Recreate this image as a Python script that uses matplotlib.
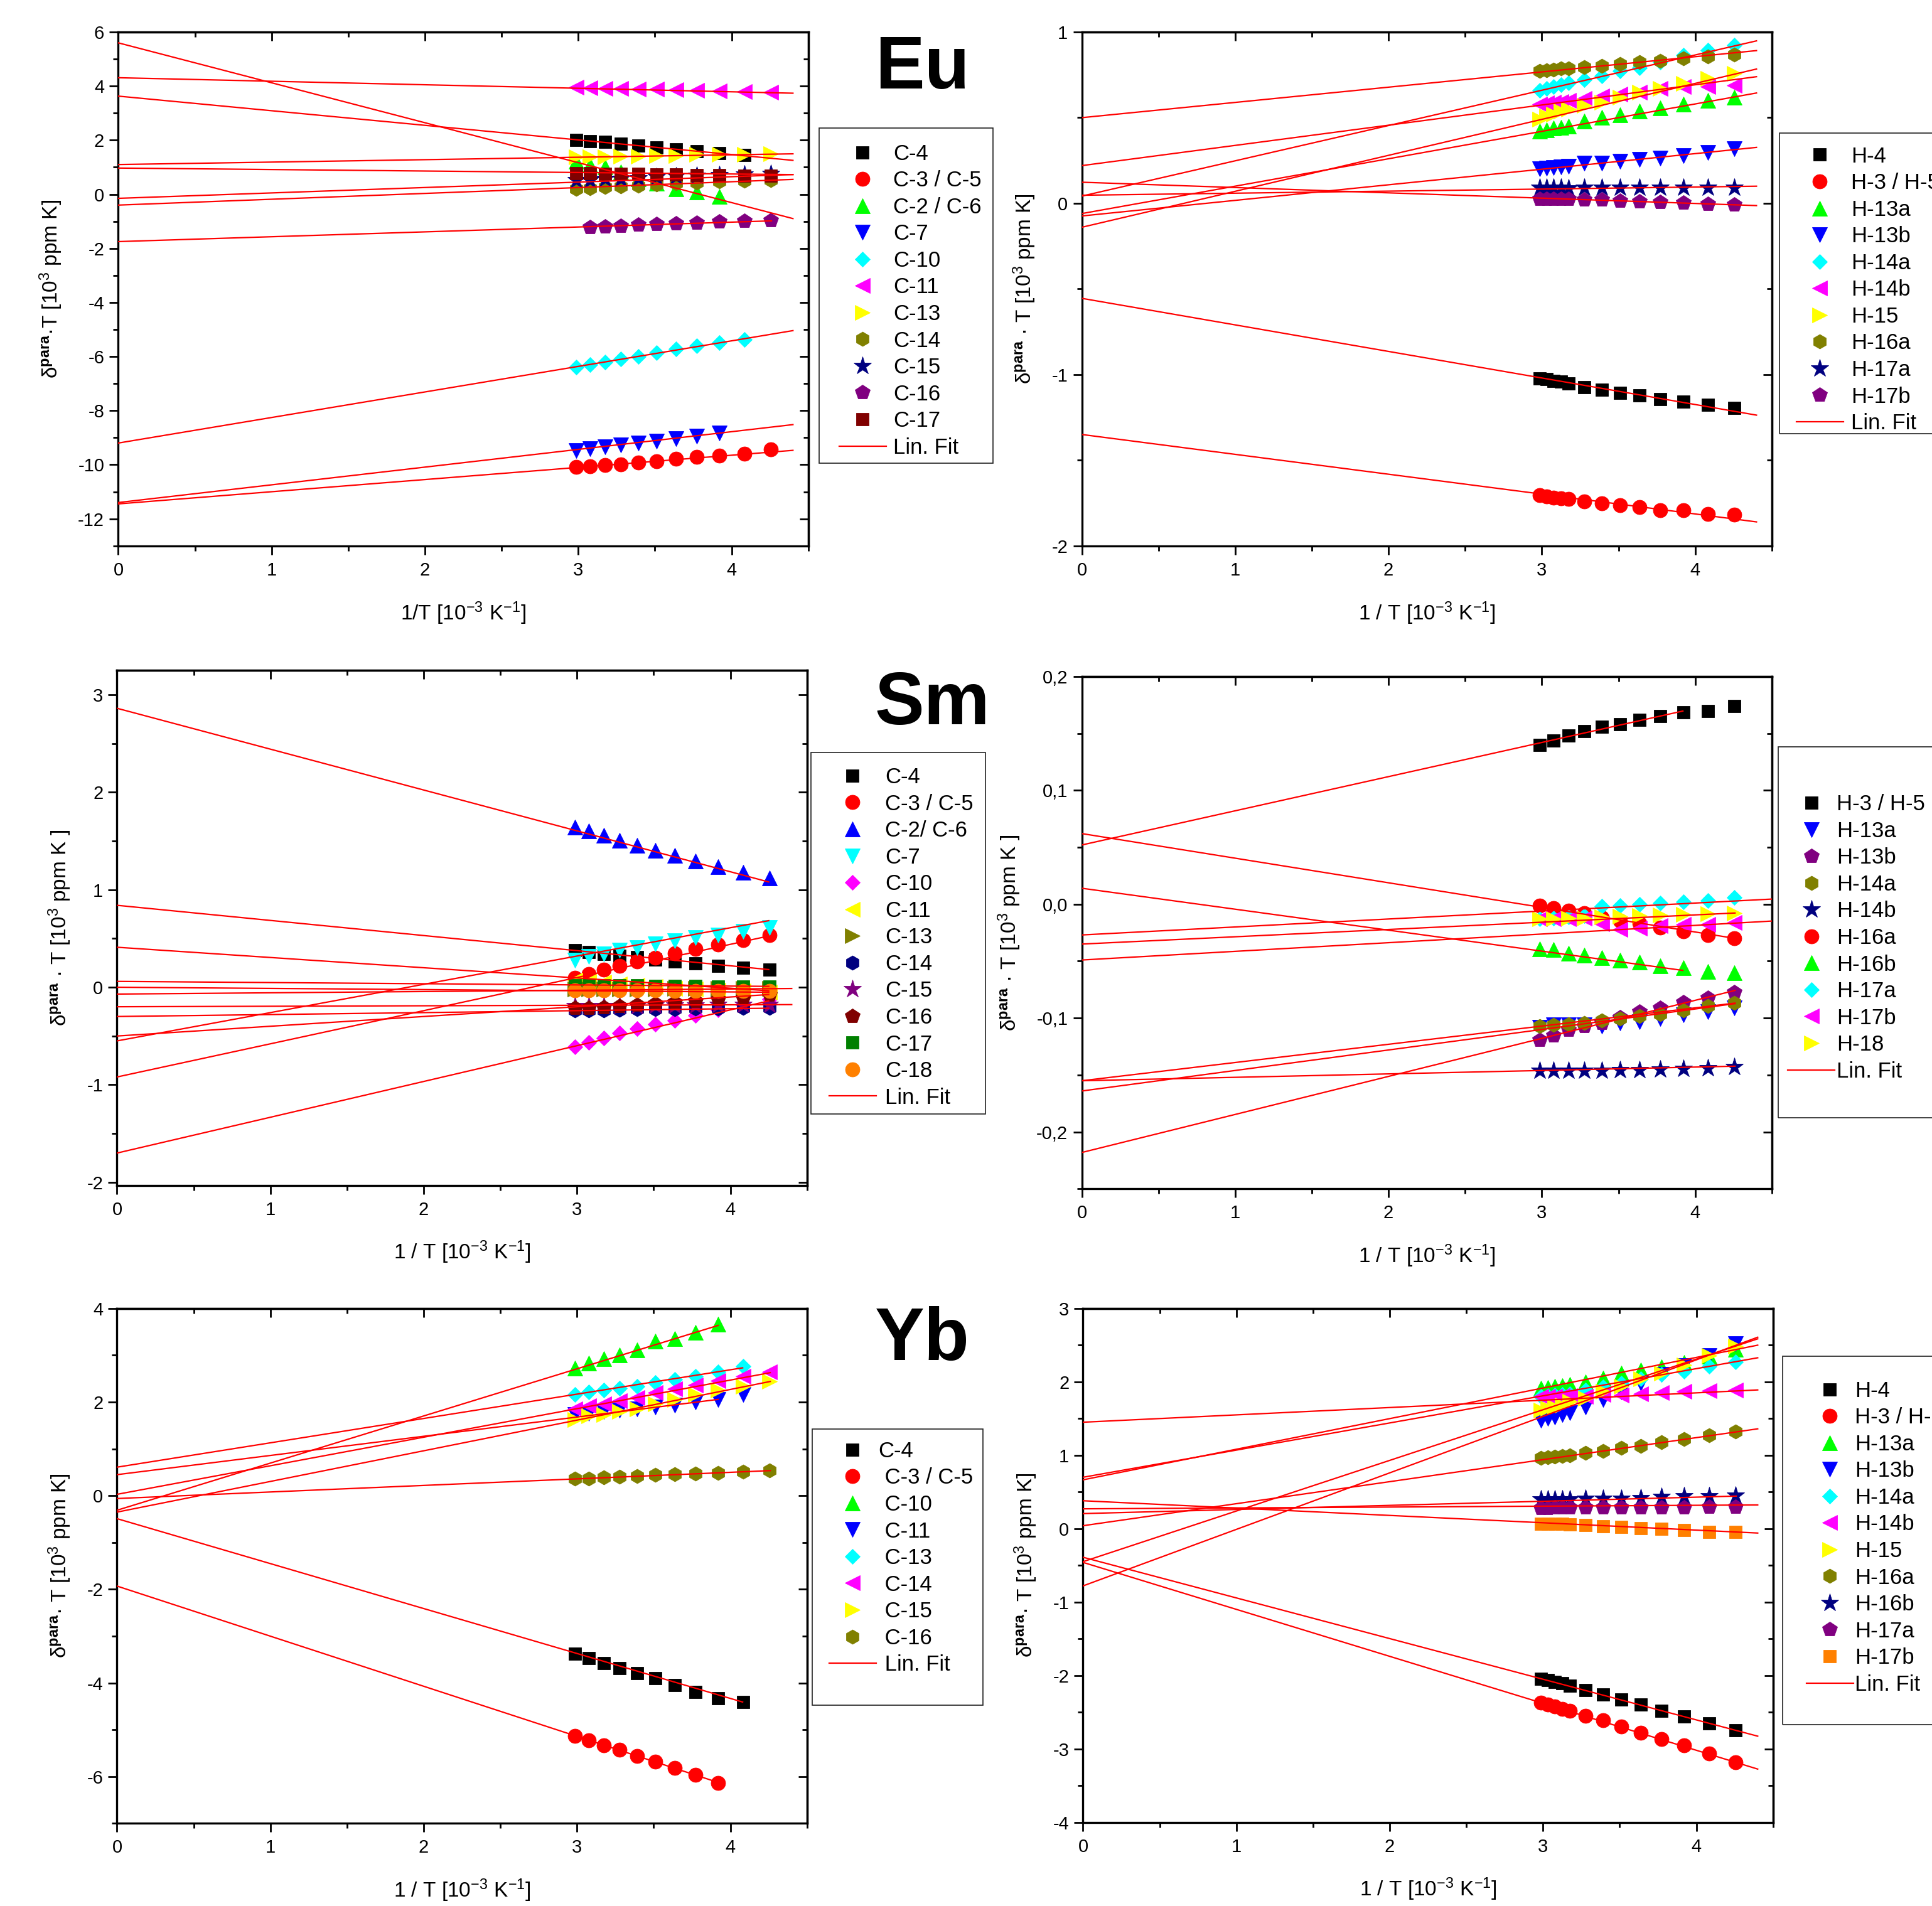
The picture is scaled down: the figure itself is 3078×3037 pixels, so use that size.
import numpy as np
import matplotlib
matplotlib.use('Agg')
import matplotlib.pyplot as plt
from matplotlib.patches import Rectangle
from matplotlib.ticker import MultipleLocator, FuncFormatter, NullFormatter

plt.rcParams['font.family'] = ['Liberation Sans', 'DejaVu Sans']
plt.rcParams['mathtext.fontset'] = 'custom'
plt.rcParams['mathtext.rm'] = 'Liberation Sans'
plt.rcParams['mathtext.it'] = 'Liberation Sans:italic'
plt.rcParams['mathtext.bf'] = 'Liberation Sans:bold'
plt.rcParams['axes.unicode_minus'] = False

nan = np.nan

# measurement temperatures [K]
T_C = [335, 325, 315, 305, 295, 285, 275, 265, 255, 245, 235]
T_H = [335, 330, 325, 320, 315, 305, 295, 285, 275, 265, 255, 245, 235]

# ---------------- Eu, 13C ----------------
eu_c_labels = ['C-4', 'C-3 / C-5', 'C-2 / C-6', 'C-7', 'C-10', 'C-11', 'C-13', 'C-14', 'C-15', 'C-16', 'C-17']
eu_c_values = [
    [2.02, 1.97, 1.93, 1.86, 1.80, 1.72, 1.67, 1.60, 1.52, 1.46, nan],
    [-10.09, -10.06, -10.01, -9.98, -9.92, -9.87, -9.79, -9.72, -9.67, -9.59, -9.44],
    [1.21, 1.08, 1.02, 0.83, 0.58, 0.41, 0.21, 0.08, -0.09, nan, nan],
    [-9.48, -9.42, -9.34, -9.28, -9.20, -9.12, -9.03, -8.94, -8.83, nan, nan],
    [-6.39, -6.31, -6.20, -6.09, -5.99, -5.87, -5.73, -5.61, -5.49, -5.37, nan],
    [3.95, 3.93, 3.92, 3.91, 3.89, 3.88, 3.86, 3.84, 3.83, 3.80, 3.78],
    [1.39, 1.39, 1.39, 1.41, 1.41, 1.43, 1.44, 1.47, 1.48, 1.47, 1.49],
    [0.21, 0.23, 0.27, 0.30, 0.32, 0.36, 0.41, 0.43, 0.47, 0.49, 0.52],
    [0.52, 0.53, 0.56, 0.58, 0.60, 0.63, 0.66, 0.69, 0.72, 0.74, 0.76],
    [nan, -1.22, -1.19, -1.17, -1.12, -1.10, -1.07, -1.06, -1.01, -0.98, -0.96],
    [0.77, 0.77, 0.76, 0.76, 0.75, 0.74, 0.73, 0.71, 0.70, 0.69, 0.68],
]
eu_c_intercept = [3.63, -11.45, 5.6, -11.4, -9.2, 4.31, 1.1, -0.4, -0.15, -1.75, 0.97]
eu_c_slope = [-0.54, 0.45, -1.477, 0.655, 0.945, -0.13, 0.09, 0.216, 0.2, 0.18, -0.055]
eu_c_end = [4.4, 4.4, 4.4, 4.4, 4.4, 4.4, 4.4, 4.4, 4.4, 4.26, 4.4]

# ---------------- Eu, 1H ----------------
eu_h_labels = ['H-4', 'H-3 / H-5', 'H-13a', 'H-13b', 'H-14a', 'H-14b', 'H-15', 'H-16a', 'H-17a', 'H-17b']
eu_h_values = [
    [-1.022, -1.028, -1.036, -1.042, -1.052, -1.073, -1.089, -1.107, -1.123, -1.143, -1.159, -1.177, -1.194],
    [-1.704, -1.710, -1.718, -1.724, -1.728, -1.742, -1.752, -1.764, -1.774, -1.792, -1.794, -1.815, -1.819],
    [0.42, 0.43, 0.44, 0.444, 0.45, 0.48, 0.50, 0.516, 0.54, 0.556, 0.58, 0.60, 0.62],
    [0.20, 0.205, 0.21, 0.212, 0.215, 0.235, 0.235, 0.245, 0.255, 0.265, 0.28, 0.295, 0.32],
    [0.661, 0.671, 0.681, 0.691, 0.702, 0.722, 0.742, 0.772, 0.792, 0.823, 0.863, 0.893, 0.923],
    [0.58, 0.585, 0.59, 0.595, 0.60, 0.61, 0.625, 0.637, 0.65, 0.67, 0.68, 0.68, 0.69],
    [0.49, 0.51, 0.52, 0.54, 0.55, 0.57, 0.59, 0.62, 0.65, 0.67, 0.70, 0.73, 0.76],
    [0.772, 0.778, 0.782, 0.786, 0.788, 0.796, 0.802, 0.812, 0.823, 0.833, 0.847, 0.859, 0.867],
    [0.09, 0.09, 0.09, 0.09, 0.088, 0.09, 0.09, 0.092, 0.092, 0.092, 0.092, 0.092, 0.092],
    [0.026, 0.026, 0.026, 0.026, 0.026, 0.022, 0.02, 0.016, 0.012, 0.006, 0.002, -0.004, -0.008],
]
eu_h_intercept = [-0.555, -1.35, -0.06, -0.074, 0.042, 0.22, -0.14, 0.50, 0.047, 0.123]
eu_h_slope = [-0.155, -0.116, 0.16, 0.091, 0.206, 0.118, 0.21, 0.089, 0.012, -0.031]
eu_h_end = [4.4] * 10

# ---------------- Sm, 13C ----------------
sm_c_labels = ['C-4', 'C-3 / C-5', 'C-2/ C-6', 'C-7', 'C-10', 'C-11', 'C-13', 'C-14', 'C-15', 'C-16', 'C-17', 'C-18']
sm_c_values = [
    [0.379, 0.359, 0.342, 0.322, 0.307, 0.284, 0.264, 0.244, 0.221, 0.198, 0.178],
    [0.10, 0.135, 0.178, 0.221, 0.264, 0.302, 0.351, 0.394, 0.437, 0.486, 0.532],
    [1.644, 1.60, 1.557, 1.509, 1.457, 1.405, 1.351, 1.293, 1.236, 1.178, 1.118],
    [0.279, 0.313, 0.342, 0.379, 0.408, 0.443, 0.474, 0.509, 0.537, 0.572, 0.609],
    [-0.612, -0.563, -0.52, -0.468, -0.425, -0.382, -0.339, -0.29, -0.233, -0.181, -0.124],
    [0.07, 0.06, 0.05, 0.03, 0.02, 0.01, -0.01, -0.02, -0.03, -0.04, -0.05],
    [-0.02, -0.02, -0.02, -0.02, -0.02, -0.02, -0.015, -0.015, -0.01, -0.01, -0.01],
    [-0.24, -0.24, -0.235, -0.232, -0.227, -0.227, -0.222, -0.22, -0.22, -0.215, -0.215],
    [-0.19, -0.19, -0.19, -0.19, -0.19, -0.185, -0.185, -0.185, -0.18, -0.18, -0.18],
    [-0.21, -0.21, -0.204, -0.195, -0.181, -0.167, -0.152, -0.138, -0.124, -0.109, -0.08],
    [0.02, 0.02, 0.02, 0.02, 0.02, 0.015, 0.015, 0.015, 0.01, 0.01, 0.01],
    [-0.03, -0.032, -0.033, -0.034, -0.035, -0.035, -0.036, -0.036, -0.037, -0.037, -0.038],
]
sm_c_intercept = [0.84, -0.92, 2.86, -0.55, -1.70, 0.41, -0.07, -0.30, -0.2, -0.5, 0.06, 0.0]
sm_c_slope = [-0.155, 0.34, -0.419, 0.29, 0.367, -0.105, 0.013, 0.02, 0.005, 0.1, -0.012, -0.012]
sm_c_end = [4.25, 4.25, 4.25, 4.25, 4.25, 4.25, 4.4, 4.25, 4.4, 4.25, 4.25, 4.25]

# ---------------- Sm, 1H ----------------
sm_h_labels = ['H-3 / H-5', 'H-13a', 'H-13b', 'H-14a', 'H-14b', 'H-16a', 'H-16b', 'H-17a', 'H-17b', 'H-18']
sm_h_values = [
    [0.1399, 0.1438, 0.148, 0.1517, 0.1559, 0.1579, 0.1616, 0.1653, 0.1685, 0.1695, 0.1739],
    [-0.108, -0.1057, -0.1057, -0.1057, -0.107, -0.1044, -0.103, -0.1007, -0.097, -0.0946, -0.091],
    [-0.119, -0.1155, -0.1106, -0.1069, -0.1044, -0.0995, -0.0946, -0.0909, -0.086, -0.0823, -0.0773],
    [-0.107, -0.1057, -0.1052, -0.1044, -0.102, -0.1007, -0.098, -0.0966, -0.0933, -0.0896, -0.0867],
    [-0.1463, -0.1463, -0.1463, -0.1463, -0.1463, -0.1458, -0.1455, -0.145, -0.1445, -0.144, -0.1426],
    [-0.001, -0.0037, -0.0059, -0.0081, -0.0118, -0.0143, -0.0167, -0.0204, -0.0241, -0.0273, -0.0298],
    [-0.039, -0.040, -0.043, -0.045, -0.047, -0.049, -0.051, -0.054, -0.056, -0.059, -0.060],
    [-0.013, -0.012, -0.011, -0.010, -0.002, -0.001, 0.0, 0.001, 0.002, 0.003, 0.006],
    [-0.013, -0.013, -0.013, -0.012, -0.017, -0.022, -0.021, -0.019, -0.018, -0.018, -0.016],
    [-0.013, -0.0128, -0.012, -0.012, -0.0113, -0.0108, -0.0103, -0.0096, -0.0091, -0.0084, -0.0076],
]
sm_h_intercept = [0.052, -0.155, -0.218, -0.164, -0.155, 0.062, 0.014, -0.027, -0.049, -0.035]
sm_h_slope = [0.030, 0.016, 0.0334, 0.018, 0.003, -0.0216, -0.0184, 0.007, 0.0076, 0.0064]
sm_h_end = [3.92, 4.26, 4.26, 4.26, 4.26, 4.26, 3.92, 4.5, 4.5, 4.26]

# ---------------- Yb, 13C ----------------
yb_c_labels = ['C-4', ' C-3 / C-5', ' C-10', ' C-11', ' C-13', ' C-14', ' C-15', ' C-16']
yb_c_values = [
    [-3.37, -3.47, -3.57, -3.68, -3.79, -3.90, -4.04, -4.19, -4.32, -4.41, nan],
    [-5.13, -5.23, -5.33, -5.43, -5.56, -5.68, -5.82, -5.96, -6.13, nan, nan],
    [2.73, 2.83, 2.92, 3.01, 3.12, 3.30, 3.36, 3.49, 3.66, nan, nan],
    [1.73, 1.76, 1.80, 1.83, 1.86, 1.90, 1.94, 2.00, 2.06, 2.16, nan],
    [2.16, 2.21, 2.25, 2.30, 2.34, 2.41, 2.48, 2.55, 2.65, 2.77, nan],
    [1.86, 1.92, 1.96, 2.03, 2.10, 2.20, 2.28, 2.36, 2.46, 2.55, 2.65],
    [1.63, 1.70, 1.73, 1.80, 1.86, 1.96, 2.06, 2.16, 2.26, 2.34, 2.44],
    [0.36, 0.37, 0.39, 0.40, 0.42, 0.44, 0.46, 0.47, 0.49, 0.51, 0.54],
]
yb_c_intercept = [-0.49, -1.93, -0.31, 0.45, 0.61, 0.03, -0.35, -0.06]
yb_c_slope = [-0.96, -1.07, 1.007, 0.41, 0.52, 0.61, 0.655, 0.14]
yb_c_end = [4.08, 3.92, 3.92, 3.92, 4.08, 4.26, 4.26, 4.26]

# ---------------- Yb, 1H ----------------
yb_h_labels = ['H-4', 'H-3 / H-5', 'H-13a', 'H-13b', 'H-14a', 'H-14b', 'H-15', 'H-16a', 'H-16b', 'H-17a', 'H-17b']
yb_h_values = [
    [-2.046, -2.064, -2.092, -2.11, -2.138, -2.20, -2.26, -2.33, -2.40, -2.48, -2.56, -2.65, -2.75],
    [-2.37, -2.40, -2.42, -2.46, -2.48, -2.55, -2.61, -2.70, -2.78, -2.87, -2.95, -3.06, -3.18],
    [1.91, 1.92, 1.94, 1.95, 1.96, 2.00, 2.05, 2.12, 2.16, 2.20, 2.26, 2.35, 2.44],
    [1.48, 1.50, 1.52, 1.55, 1.58, 1.66, 1.76, 1.86, 1.98, 2.10, 2.22, 2.36, 2.52],
    [1.80, 1.81, 1.82, 1.83, 1.84, 1.89, 1.93, 1.98, 2.04, 2.10, 2.14, 2.21, 2.27],
    [1.80, 1.80, 1.80, 1.81, 1.81, 1.80, 1.83, 1.82, 1.84, 1.85, 1.87, 1.88, 1.89],
    [1.61, 1.64, 1.66, 1.68, 1.73, 1.78, 1.87, 1.94, 2.04, 2.12, 2.23, 2.36, 2.49],
    [0.963, 0.972, 0.982, 0.986, 0.995, 1.03, 1.06, 1.10, 1.13, 1.18, 1.22, 1.27, 1.32],
    [0.40, 0.40, 0.40, 0.40, 0.40, 0.41, 0.41, 0.41, 0.42, 0.43, 0.44, 0.44, 0.45],
    [0.284, 0.284, 0.285, 0.285, 0.286, 0.286, 0.287, 0.288, 0.290, 0.291, 0.292, 0.293, 0.294],
    [0.064, 0.064, 0.064, 0.064, 0.055, 0.046, 0.032, 0.023, 0.009, -0.005, -0.023, -0.046, -0.046],
]
yb_h_intercept = [-0.39, -0.46, 0.665, -0.78, 0.70, 1.45, -0.45, 0.04, 0.205, 0.27, 0.38]
yb_h_slope = [-0.554, -0.64, 0.417, 0.77, 0.37, 0.10, 0.69, 0.30, 0.056, 0.012, -0.10]
yb_h_end = [4.4, 4.4, 4.4, 4.4, 4.4, 4.4, 4.4, 4.4, 4.26, 4.4, 4.4]

# ---------------- styles ----------------
BLACK, RED, LIME, BLUE, CYAN = '#000000', '#FF0000', '#00FF00', '#0000FF', '#00FFFF'
MAGENTA, YELLOW, OLIVE, NAVY = '#FF00FF', '#FFFF00', '#808000', '#000080'
PURPLE, MAROON, GREEN, ORANGE = '#800080', '#800000', '#008000', '#FF8000'
MS = {'s': 14, 'o': 16.5, '^': 17.5, 'v': 17.5, 'D': 12.5, '<': 17.5, '>': 17.5,
      'h': 16.5, '*': 21, 'p': 17.5}

eu_c_style = list(zip('so^vD<>h*ps', [BLACK, RED, LIME, BLUE, CYAN, MAGENTA, YELLOW, OLIVE, NAVY, PURPLE, MAROON]))
eu_h_style = list(zip('so^vD<>h*p', [BLACK, RED, LIME, BLUE, CYAN, MAGENTA, YELLOW, OLIVE, NAVY, PURPLE]))
sm_c_style = list(zip('so^vD<>h*pso', [BLACK, RED, BLUE, CYAN, MAGENTA, YELLOW, OLIVE, NAVY, PURPLE, MAROON, GREEN, ORANGE]))
sm_h_style = list(zip('svph*o^D<>', [BLACK, BLUE, PURPLE, OLIVE, NAVY, RED, LIME, CYAN, MAGENTA, YELLOW]))
yb_c_style = list(zip('so^vD<>h', [BLACK, RED, LIME, BLUE, CYAN, MAGENTA, YELLOW, OLIVE]))
yb_h_style = list(zip('so^vD<>h*ps', [BLACK, RED, LIME, BLUE, CYAN, MAGENTA, YELLOW, OLIVE, NAVY, PURPLE, ORANGE]))

W, H = 1568.0, 1547.0   # layout measured on the reference (scaled pixels)
fig = plt.figure(figsize=(30.78, 30.37), dpi=100)

LEG_FS = 25


def fmt_plain(v, pos):
    return f'{v:g}' if abs(v) > 1e-9 else '0'


def fmt_comma(v, pos):
    v = 0.0 if abs(v) < 1e-9 else v
    return f'{v:.1f}'.replace('.', ',')


def panel(rect, T, labels, values, styles, b, m, ends, ylim, ymaj, ymin,
          xlabel, ylabel, yfmt, leg_frame, leg_first, leg_pad, fitlabel='Lin. Fit'):
    l, t, r, bt = rect
    ax = fig.add_axes([l / W, 1 - bt / H, (r - l) / W, (bt - t) / H])
    x = 1000.0 / np.array(T, float)
    handles = []
    for lab, vals, (mk, c) in zip(labels, values, styles):
        h, = ax.plot(x, np.array(vals, float), ls='none', marker=mk, ms=MS[mk],
                     color=c, mec=c, mew=0.6, label=lab, zorder=3)
        handles.append(h)
    fit_h = None
    for bi, mi, e in zip(b, m, ends):
        xf = np.array([0.0, e])
        ln, = ax.plot(xf, bi + mi * xf, color='red', lw=1.6, zorder=4)
        if fit_h is None:
            fit_h = ln
    ax.set_xlim(0, 4.5)
    ax.set_ylim(*ylim)
    ax.xaxis.set_major_locator(MultipleLocator(1))
    ax.xaxis.set_minor_locator(MultipleLocator(0.5))
    ax.yaxis.set_major_locator(MultipleLocator(ymaj))
    ax.yaxis.set_minor_locator(MultipleLocator(ymin))
    ax.xaxis.set_major_formatter(FuncFormatter(fmt_plain))
    ax.yaxis.set_major_formatter(FuncFormatter(yfmt))
    ax.tick_params(which='both', direction='out', top=False, right=False,
                   width=2, labelsize=21)
    ax.tick_params(axis='x', pad=8)
    ax.tick_params(axis='y', pad=6)
    ax.tick_params(which='major', length=10)
    ax.tick_params(which='minor', length=6)
    for s in ax.spines.values():
        s.set_linewidth(2.4)
    sx = ax.secondary_xaxis('top')
    sx.xaxis.set_major_locator(MultipleLocator(1))
    sx.xaxis.set_minor_locator(MultipleLocator(0.5))
    sx.xaxis.set_major_formatter(NullFormatter())
    sy = ax.secondary_yaxis('right')
    sy.yaxis.set_major_locator(MultipleLocator(ymaj))
    sy.yaxis.set_minor_locator(MultipleLocator(ymin))
    sy.yaxis.set_major_formatter(NullFormatter())
    for sa in (sx, sy):
        sa.tick_params(which='both', direction='in', width=2)
        sa.tick_params(which='major', length=10)
        sa.tick_params(which='minor', length=6)
        for s in sa.spines.values():
            s.set_linewidth(2.4)
    ax.set_xlabel(xlabel, fontsize=24, labelpad=24)
    ax.set_ylabel(ylabel, fontsize=24, labelpad=16)

    # legend frame and entries
    fx0, fy0, fx1, fy1 = leg_frame
    fig.add_artist(Rectangle((fx0 / W, 1 - fy1 / H), (fx1 - fx0) / W, (fy1 - fy0) / H,
                             transform=fig.transFigure, fill=False, lw=1.2, ec='#222222'))
    mx, my = leg_first
    hl = 2.16
    hl_px = hl * LEG_FS * 100 / 72 * W / 3078.0
    fig.legend(handles + [fit_h], labels + [fitlabel], loc='upper left',
               bbox_to_anchor=((mx - hl_px / 2) / W, 1 - (my - 8.5) / H),
               bbox_transform=fig.transFigure, frameon=False, fontsize=LEG_FS,
               numpoints=1, handlelength=hl, handletextpad=leg_pad,
               labelspacing=0.275, borderpad=0, borderaxespad=0)
    return ax


xl1 = '1/T [10$^{-3}$ K$^{-1}$]'
xl = '1 / T [10$^{-3}$ K$^{-1}$]'
yl_a = 'δ$^{\\mathbf{para}}$·T [10$^{3}$ ppm K]'
yl_b = 'δ$^{\\mathbf{para}}$ · T [10$^{3}$ ppm K]'
yl_c = 'δ$^{\\mathbf{para}}$ · T [10$^{3}$ ppm K ]'
yl_d = 'δ$^{\\mathbf{para}}$· T [10$^{3}$ ppm K]'

panel((96, 26, 656, 443), T_C, eu_c_labels, eu_c_values, eu_c_style,
      eu_c_intercept, eu_c_slope, eu_c_end, (-13, 6), 2, 1, xl1, yl_a, fmt_plain,
      (665, 104, 806, 376), (700, 125), 0.34)
panel((878, 26, 1438, 443), T_H, eu_h_labels, eu_h_values, eu_h_style,
      eu_h_intercept, eu_h_slope, eu_h_end, (-2, 1), 1, 0.5, xl, yl_b, fmt_plain,
      (1444, 108, 1620, 352), (1477, 127), 0.34)
panel((95, 544, 655, 962), T_C, sm_c_labels, sm_c_values, sm_c_style,
      sm_c_intercept, sm_c_slope, sm_c_end, (-2.03, 3.25), 1, 0.5, xl, yl_c, fmt_plain,
      (658, 611, 800, 904), (692, 631), 0.4)
panel((878, 549, 1438, 965), T_C, sm_h_labels, sm_h_values, sm_h_style,
      sm_h_intercept, sm_h_slope, sm_h_end, (-0.25, 0.2), 0.1, 0.05, xl, yl_c, fmt_comma,
      (1443, 606, 1620, 907), (1470, 653), 0.08)
panel((95, 1062, 655, 1480), T_C, yb_c_labels, yb_c_values, yb_c_style,
      yb_c_intercept, yb_c_slope, yb_c_end, (-7, 4), 2, 1, xl, yl_d, fmt_plain,
      (659, 1160, 798, 1384), (692, 1178), 0.11, fitlabel=' Lin. Fit')
panel((879, 1062, 1439, 1479), T_H, yb_h_labels, yb_h_values, yb_h_style,
      yb_h_intercept, yb_h_slope, yb_h_end, (-4, 3), 1, 0.5, xl, yl_d, fmt_plain,
      (1447, 1101, 1620, 1400), (1485, 1129), 0.08)

for name, (tx, ty) in zip(['Eu', 'Sm', 'Yb'], [(710, 72), (710, 588), (710, 1104)]):
    fig.text(tx / W, 1 - ty / H, name, fontsize=85, fontweight='bold',
             ha='left', va='baseline')

fig.savefig('out.png', dpi=100)
